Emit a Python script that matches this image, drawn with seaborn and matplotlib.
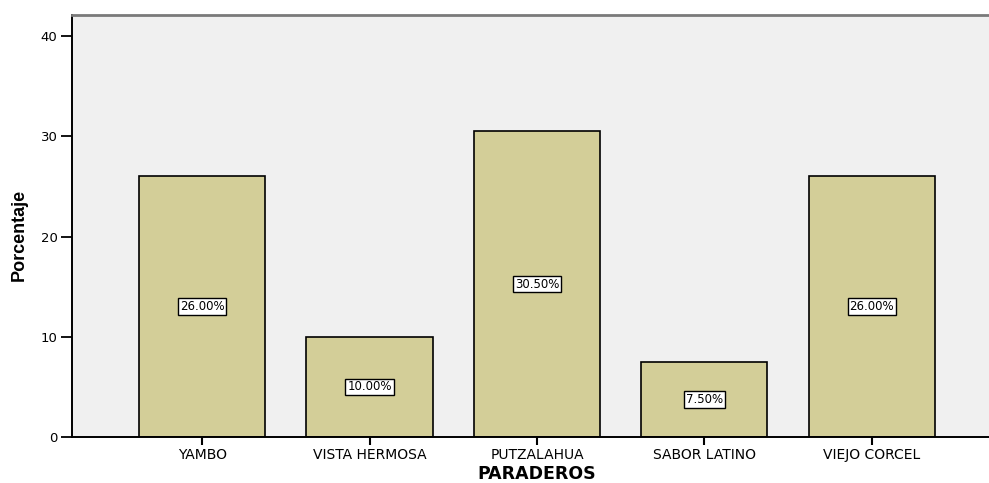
import matplotlib
matplotlib.use("Agg")
import matplotlib.pyplot as plt
import seaborn as sns
import pandas as pd

paraderos = ["YAMBO", "VISTA HERMOSA", "PUTZALAHUA", "SABOR LATINO", "VIEJO CORCEL"]
porcentajes = [26.00, 10.00, 30.50, 7.50, 26.00]
y_ticks = [0, 10, 20, 30, 40]

sns.set_theme(style="white")
plt.rcParams["font.family"] = ["DejaVu Sans"]
plt.rcParams.update({
    "text.color": "black",
    "axes.labelcolor": "black",
    "xtick.color": "black",
    "ytick.color": "black",
})

df = pd.DataFrame({"PARADEROS": paraderos, "Porcentaje": porcentajes})

fig = plt.figure(figsize=(9.89, 4.83), dpi=100)
ax = fig.add_axes([72 / 989, 1 - 437 / 483, 1 - 72 / 989, (437 - 15) / 483])
ax.set_facecolor("#f0f0f0")

sns.barplot(data=df, x="PARADEROS", y="Porcentaje", color="#d3ce98",
            saturation=1, width=0.753, edgecolor="black", linewidth=1.2, ax=ax)

# value boxes at half the bar height
for i, v in enumerate(porcentajes):
    ax.text(i, v / 2, f"{v:.2f}%", ha="center", va="center", fontsize=8.5,
            bbox=dict(boxstyle="square,pad=0.15", facecolor="white",
                      edgecolor="black", linewidth=1.0))

ax.set_xlim(-0.777, 4.70)
ax.set_ylim(0, 42.1)
ax.set_yticks(y_ticks)
ax.tick_params(axis="x", direction="out", length=6, width=1.5,
               labelsize=10, pad=2, bottom=True)
ax.tick_params(axis="y", direction="out", length=8, width=1.3,
               labelsize=9.5, pad=2.5, left=True)

for side in ["left", "bottom"]:
    ax.spines[side].set_color("black")
    ax.spines[side].set_linewidth(1.4)
ax.spines["top"].set_color("#7a7a7a")
ax.spines["top"].set_linewidth(2)
ax.spines["right"].set_visible(False)

ax.set_xlabel("PARADEROS", fontsize=12.5, fontweight="bold")
ax.xaxis.set_label_coords(0.507, -0.066)
ax.set_ylabel("Porcentaje", fontsize=13, fontweight="bold",
              family=["Liberation Sans", "DejaVu Sans"])
ax.yaxis.set_label_coords(-0.048, 0.48)

fig.savefig("out.png", dpi=100)
